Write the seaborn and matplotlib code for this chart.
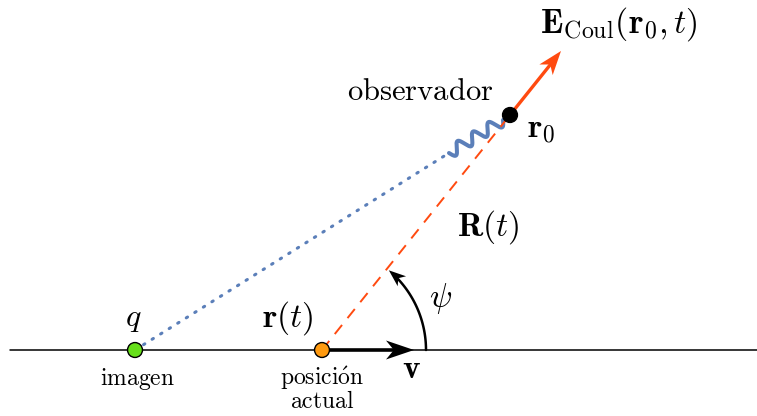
import numpy as np
import matplotlib
matplotlib.use("Agg")
import matplotlib.pyplot as plt
import seaborn as sns
import pandas as pd
from matplotlib.patches import Polygon

sns.set_theme(style="white")
plt.rcParams["mathtext.fontset"] = "cm"
plt.rcParams["font.family"] = ["DejaVu Serif"]

# --- data (pixel-space diagram coordinates) ---
axis_x = [10, 757]
axis_y = [350, 350]
image_pt = (135, 350)        # q (imagen)
current_pt = (322, 350)      # r(t) (posición actual)
observer_pt = (510, 115)     # r0 (observador)
v_tip = (414, 350)
E_tip = (561, 51)
dotted_end = (449, 153)
arc_radius = 104
arc_end_deg = 50

labels = {
    "q": (133, 318, r"$q$", 23),
    "imagen": (137, 379, r"$\mathrm{imagen}$", 17),
    "rt": (287, 318, r"$\mathbf{r}(t)$", 24),
    "pos": (322, 389, r"$\mathrm{posici\acute{o}n}$" + "\n" + r"$\mathrm{actual}$", 17),
    "v": (411, 369, r"$\mathbf{v}$", 24),
    "psi": (441, 298, r"$\psi$", 24),
    "R": (488, 227, r"$\mathbf{R}(t)$", 24),
    "obs": (420, 92, r"$\mathrm{observador}$", 22),
    "r0": (541, 129, r"$\mathbf{r}_0$", 24),
    "E": (619, 24, r"$\mathbf{E}_{\mathrm{Coul}}(\mathbf{r}_0,t)$", 24.5),
}

W, H = 757, 416
fig = plt.figure(figsize=(W / 100, H / 100), dpi=100)
ax = fig.add_axes([0, 0, 1, 1])
ax.set_xlim(0, W)
ax.set_ylim(H, 0)
ax.set_aspect("equal")
ax.axis("off")


def stealth(tip, direction, length, width, color, z=5):
    tip = np.asarray(tip, float)
    u = np.asarray(direction, float)
    u = u / np.hypot(*u)
    n = np.array([-u[1], u[0]])
    back = tip - length * u
    inner = tip - 0.72 * length * u
    poly = [tip, back + width / 2 * n, inner, back - width / 2 * n]
    ax.add_patch(Polygon(poly, closed=True, color=color, zorder=z, lw=0))
    return inner


# horizontal axis
sns.lineplot(x=axis_x, y=axis_y, ax=ax, color="black", lw=1.1, sort=False)

# dotted line from image to observer (blue)
sns.lineplot(x=[image_pt[0], dotted_end[0]], y=[image_pt[1], dotted_end[1]], ax=ax,
             color="#5b7fb9", lw=2.2, linestyle=(0, (0.5, 2.8)), sort=False,
             dash_capstyle="round")

# wavy part
p0 = np.array(dotted_end, float)
p1 = np.array(observer_pt, float) - np.array([7, -5.0])
d = p1 - p0
L = np.hypot(*d)
u = d / L
n = np.array([-u[1], u[0]])
s = np.linspace(0, L, 300)
wig = 5.8 * np.sin(2 * np.pi * s / (L / 3.5))
pts = p0[None, :] + s[:, None] * u[None, :] + wig[:, None] * n[None, :]
ax.plot(pts[:, 0], pts[:, 1], color="#5b7fb9", lw=2.9, solid_capstyle="round")

# dashed R(t) line
sns.lineplot(x=[current_pt[0], observer_pt[0]], y=[current_pt[1], observer_pt[1]], ax=ax,
             color="#ff4a10", lw=1.4, linestyle=(0, (6, 4.5)), sort=False)

# E arrow
Edir = np.subtract(E_tip, observer_pt)
inner = stealth(E_tip, Edir, 24, 17, "#ff4a10")
ax.plot([observer_pt[0], inner[0] + 1], [observer_pt[1], inner[1] - 1], color="#ff4a10", lw=2.4, zorder=4)

# v arrow
inner = stealth(v_tip, (1, 0), 28, 19, "black")
ax.plot([current_pt[0], inner[0] + 2], [current_pt[1], inner[1]], color="black", lw=2.6, zorder=4)

# psi arc
t_end = np.deg2rad(arc_end_deg)
tip = (current_pt[0] + arc_radius * np.cos(t_end), current_pt[1] - arc_radius * np.sin(t_end))
tang = (-np.sin(t_end), -np.cos(t_end))
stealth(tip, tang, 17, 13, "black")
th = np.deg2rad(np.linspace(0, arc_end_deg - 7, 100))
ax.plot(current_pt[0] + arc_radius * np.cos(th), current_pt[1] - arc_radius * np.sin(th),
        color="black", lw=1.8)

# points
pts_df = pd.DataFrame({"x": [image_pt[0], current_pt[0], observer_pt[0]],
                       "y": [image_pt[1], current_pt[1], observer_pt[1]],
                       "kind": ["imagen", "actual", "observador"]})
sns.scatterplot(data=pts_df, x="x", y="y", hue="kind",
                palette={"imagen": "#66e01a", "actual": "#ff9a10", "observador": "black"},
                s=115, edgecolor="black", linewidth=1.0, ax=ax, legend=False, zorder=6)

for key, (x, y, txt, fs) in labels.items():
    ax.text(x, y, txt, fontsize=fs, ha="center", va="center", color="black",
            linespacing=0.9, multialignment="center")

fig.savefig("out.png", dpi=100)
